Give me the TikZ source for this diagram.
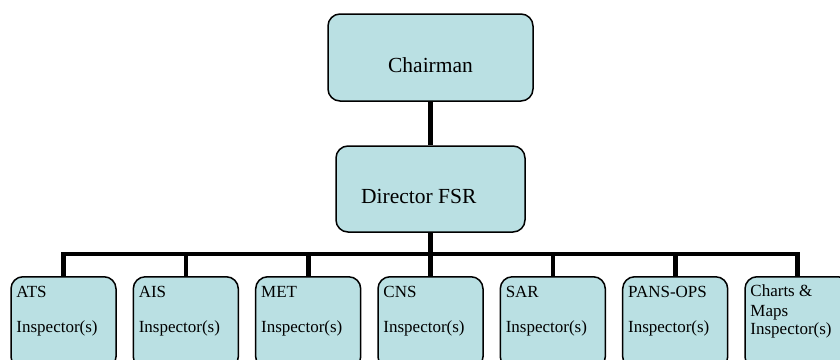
\documentclass[tikz,border=0pt]{standalone}
\usepackage{fontspec}
\setmainfont{Liberation Serif}
\usetikzlibrary{calc}
\definecolor{boxfill}{RGB}{186,224,227}
\begin{document}
\begin{tikzpicture}[x=1pt,y=-1pt,
  box/.style={draw=black, line width=1.5pt, fill=boxfill, rounded corners=12pt, inner sep=0pt},
  leaf/.style={box, minimum width=105pt, minimum height=92pt, anchor=north},
  bar/.style={line width=4.6pt, line join=miter},
  toptext/.style={font=\fontsize{21.5}{26}\selectfont, inner sep=0pt},
  leaftext/.style={font=\fontsize{17}{20}\selectfont, inner sep=0pt, anchor=base west}]
\useasboundingbox (0,0) rectangle (840,359);
\clip (0,0) rectangle (840,359);
% top boxes
\node[box, minimum width=205pt, minimum height=87pt] (chair) at (430.5,57.5) {};
\node[toptext, anchor=base] (chairt) at (430.5,72) {Chairman};
\node[box, minimum width=189pt, minimum height=86pt] (dir) at (430.5,189) {};
\node[toptext, anchor=base west] (dirt) at (361,203) {Director FSR};
% leaf boxes
\node[leaf] (ats)  at (63.5,276) {};
\node[leaf] (ais)  at (185.8,276) {};
\node[leaf] (met)  at (308.2,276) {};
\node[leaf] (cns)  at (430.5,276) {};
\node[leaf] (sar)  at (552.8,276) {};
\node[leaf] (pans) at (675.2,276) {};
\node[leaf] (chm)  at (797.5,276) {};
% connectors
\coordinate (busy) at (0,254);
\draw[bar] (chair.south) -- (dir.north);
\draw[bar] (dir.south) -- (dir.south |- busy);
\draw[bar] (ats.north) -- (ats.north |- busy) -- (chm.north |- busy) -- (chm.north);
\foreach \n in {ais,met,cns,sar,pans}{
  \draw[bar] (\n.north) -- (\n.north |- busy);
}
% leaf texts
\node[leaftext] (atst1) at ($(ats.north west)+(6,21)$) {ATS};
\node[leaftext] (atst2) at ($(ats.north west)+(6,56)$) {Inspector(s)};
\node[leaftext] (aist1) at ($(ais.north west)+(6,21)$) {AIS};
\node[leaftext] (aist2) at ($(ais.north west)+(6,56)$) {Inspector(s)};
\node[leaftext] (mett1) at ($(met.north west)+(6,21)$) {MET};
\node[leaftext] (mett2) at ($(met.north west)+(6,56)$) {Inspector(s)};
\node[leaftext] (cnst1) at ($(cns.north west)+(6,21)$) {CNS};
\node[leaftext] (cnst2) at ($(cns.north west)+(6,56)$) {Inspector(s)};
\node[leaftext] (sart1) at ($(sar.north west)+(6,21)$) {SAR};
\node[leaftext] (sart2) at ($(sar.north west)+(6,56)$) {Inspector(s)};
\node[leaftext] (panst1) at ($(pans.north west)+(6,21)$) {PANS-OPS};
\node[leaftext] (panst2) at ($(pans.north west)+(6,56)$) {Inspector(s)};
\node[leaftext] (chmt1) at ($(chm.north west)+(6,20)$) {Charts \&};
\node[leaftext] (chmt2) at ($(chm.north west)+(6,40)$) {Maps};
\node[leaftext] (chmt3) at ($(chm.north west)+(6,58)$) {Inspector(s)};
\end{tikzpicture}
\end{document}
